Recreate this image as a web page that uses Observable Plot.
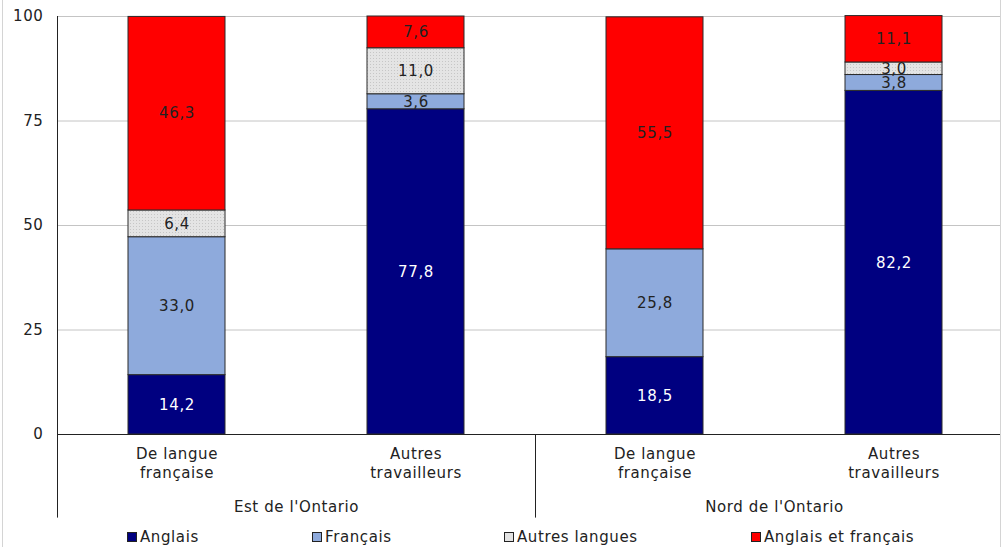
<!DOCTYPE html>
<html><head><meta charset="utf-8">
<script src="https://cdn.jsdelivr.net/npm/d3@7"></script>
<script src="https://cdn.jsdelivr.net/npm/@observablehq/plot@0.6"></script>
<style>
body{margin:0;background:#fff;font-family:"DejaVu Sans",Verdana,sans-serif;}
#wrap{position:relative;width:1001px;height:547px;overflow:hidden;background:#fff;}
#chart svg{display:block;}
#legend{position:absolute;left:0;top:528px;width:1001px;height:19px;font-size:15px;letter-spacing:0.6px;color:#222;}
.item{position:absolute;top:0;display:flex;align-items:center;height:18px;white-space:nowrap;}
.sw{width:8px;height:8px;border:1px solid #222;margin-right:3px;}
.edge{position:absolute;top:0;width:1px;height:547px;background:#d4d4d4;}
</style></head><body>
<div id="wrap"><div id="chart"></div><div id="legend"></div>
<div class="edge" style="left:2px"></div><div class="edge" style="left:1000px"></div></div>
<script>
const regions = ["Est de l'Ontario", "Nord de l'Ontario"];
const groups = ["De langue\nfrançaise", "Autres\ntravailleurs"];
const series = ["Anglais", "Français", "Autres langues", "Anglais et français"];
const colors = ["#000080", "#8eaadc", "url(#dots)", "#ff0000"];
const legendColors = ["#000080", "#8eaadc", "#e2e2e2", "#ff0000"];
const estFrancophones = [14.2, 33.0, 6.4, 46.3];
const estAutres = [77.8, 3.6, 11.0, 7.6];
const nordFrancophones = [18.5, 25.8, 0, 55.5];
const nordAutres = [82.2, 3.8, 3.0, 11.1];
const yTicks = [0, 25, 50, 75, 100];

const keys = [];
regions.forEach(r => groups.forEach(g => keys.push(r + "|" + g)));
const barValues = [estFrancophones, estAutres, nordFrancophones, nordAutres];
const rows = [];
keys.forEach((k, i) => series.forEach((s, j) => {
  if (barValues[i][j] > 0) rows.push({key: k, series: s, value: barValues[i][j]});
}));

const X0 = 57, X1 = 1013, step = (X1 - X0) / keys.length;
const fmt = v => v.toFixed(1).replace(".", ",");
const font = "DejaVu Sans, Verdana, sans-serif";
const FS = 15;

const plot = Plot.plot({
  width: 1001, height: 527,
  marginTop: 16, marginBottom: 93, marginLeft: 57, marginRight: 0,
  style: {fontFamily: font, fontSize: FS + "px", letterSpacing: "0.6px", color: "#222", background: "white", overflow: "visible"},
  x: {type: "band", domain: keys, range: [X0, X1], paddingInner: 0.594, paddingOuter: 0.297, axis: null},
  y: {domain: [0, 100], axis: null},
  color: {type: "ordinal", domain: series, range: colors},
  marks: [
    Plot.ruleY(yTicks.filter(t => t > 0), {stroke: "#c4c4c4", strokeWidth: 1}),
    Plot.axisY({ticks: yTicks, tickSize: 0, tickPadding: 14, label: null, fontSize: FS, tickFormat: d => String(d)}),
    Plot.barY(rows, {x: "key", y: "value", fill: "series", stroke: "#2a2a2a", strokeWidth: 1}),
    Plot.ruleY([0], {stroke: "#222", strokeWidth: 1}),
    Plot.ruleX([keys[0], keys[2]], {x: d => d, dx: -step / 2, y1: -20, y2: d => d === keys[0] ? 100 : 0, stroke: "#222", strokeWidth: 1}),
    Plot.text(rows, Plot.stackY({x: "key", y: "value", z: "series",
      text: d => d.series === "Anglais" ? fmt(d.value) : "", fill: "white", fontSize: FS})),
    Plot.text(rows, Plot.stackY({x: "key", y: "value", z: "series",
      text: d => d.series !== "Anglais" ? fmt(d.value) : "", fill: "#222", fontSize: FS})),
    Plot.text(keys, {x: d => d, text: d => d.split("|")[1], frameAnchor: "bottom", lineAnchor: "top",
      dy: 11, lineHeight: 1.27, fill: "#222", fontSize: FS}),
    Plot.text([keys[0], keys[2]], {x: d => d, text: d => d.split("|")[0], frameAnchor: "bottom",
      lineAnchor: "middle", dx: step / 2, dy: 73, fill: "#222", fontSize: FS})
  ]
});

d3.select(plot).insert("defs", ":first-child").html(
  '<pattern id="dots" width="3" height="3" patternUnits="userSpaceOnUse">' +
  '<rect width="3" height="3" fill="#e4e4e4"/><rect x="1" y="1" width="1" height="1" fill="#c6c6c6"/></pattern>');
document.getElementById("chart").appendChild(plot);

const legendLeft = [127, 312, 504, 751];
const legend = d3.select("#legend");
series.forEach((s, i) => {
  const it = legend.append("div").attr("class", "item").style("left", legendLeft[i] + "px");
  it.append("div").attr("class", "sw").style("background", legendColors[i]);
  it.append("span").text(s);
});
</script>
</body></html>
